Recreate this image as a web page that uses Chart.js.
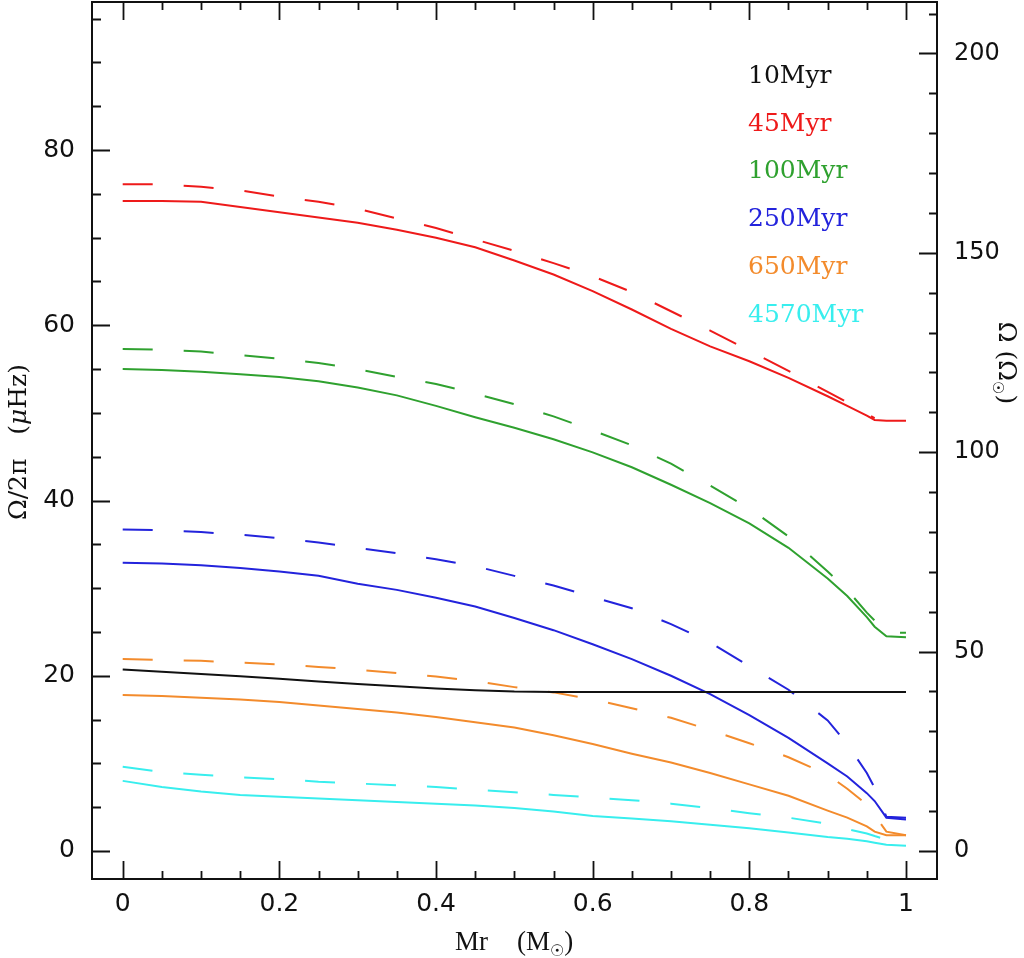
<!DOCTYPE html>
<html><head><meta charset="utf-8">
<script src="https://cdn.jsdelivr.net/npm/chart.js@4"></script>
<style>html,body{margin:0;padding:0;background:#fff}canvas{display:block}</style>
</head><body>
<canvas id="c" width="1024" height="958"></canvas>
<script>
// ---- data ----
const mr = [0,0.05,0.1,0.15,0.2,0.25,0.3,0.35,0.4,0.45,0.5,0.55,0.6,0.65,0.7,0.75,0.8,0.85,0.9,0.925,0.95,0.96,0.975,1.0];

const black10  = [20.7,20.45,20.2,19.95,19.65,19.35,19.05,18.8,18.55,18.35,18.2,18.15,18.15,18.15,18.15,18.15,18.15,18.15,18.15,18.15,18.15,18.15,18.15,18.15];
const red45    = [74.2,74.2,74.1,73.5,72.9,72.3,71.7,70.9,70.0,68.9,67.4,65.8,63.9,61.8,59.6,57.6,55.9,54.0,51.9,50.8,49.7,49.2,49.1,49.1];
const red45d   = [76.1,76.1,75.8,75.4,74.7,74.1,73.3,72.2,71.1,69.8,68.5,67.1,65.6,63.8,61.6,59.4,57.1,54.8,52.4,51.2,49.9,49.4];
const green100 = [55.0,54.9,54.7,54.4,54.1,53.6,52.9,52.0,50.8,49.5,48.3,47.0,45.5,43.8,41.8,39.7,37.4,34.6,31.1,29.1,26.7,25.6,24.5,24.4];
const green100d= [57.3,57.2,57.0,56.6,56.2,55.7,55.0,54.1,53.3,52.2,51.0,49.6,48.0,46.3,44.2,41.7,39.1,35.9,31.9,29.8,27.2,26.3,24.9,24.9];
const blue250  = [32.9,32.8,32.6,32.3,31.9,31.4,30.5,29.8,28.9,27.9,26.6,25.2,23.6,21.9,20.0,17.9,15.5,12.9,10.0,8.5,6.6,5.7,3.8,3.6];
const blue250d = [36.7,36.6,36.4,36.1,35.7,35.2,34.6,34.0,33.3,32.5,31.4,30.3,29.0,27.7,25.9,23.8,21.1,18.4,14.9,12.2,8.9,7.2,3.9,3.8];
const orange650  = [17.8,17.7,17.5,17.3,17.0,16.6,16.2,15.8,15.3,14.7,14.1,13.2,12.2,11.1,10.1,8.9,7.6,6.3,4.6,3.8,2.8,2.2,1.8,1.8];
const orange650d = [21.9,21.8,21.7,21.5,21.3,21.0,20.7,20.3,19.9,19.4,18.7,18.1,17.3,16.3,15.2,13.8,12.3,10.7,8.7,7.1,5.3,4.1,2.2,1.8];
const cyan4570   = [8.0,7.3,6.8,6.4,6.2,6.0,5.8,5.6,5.4,5.2,4.9,4.5,4.0,3.7,3.4,3.0,2.6,2.1,1.6,1.4,1.1,0.95,0.7,0.6];
const cyan4570d  = [9.6,9.0,8.7,8.4,8.2,7.9,7.7,7.5,7.3,7.0,6.7,6.4,6.1,5.8,5.4,4.9,4.3,3.8,3.1,2.5,2.0,1.7,1.3];

const legendLabels = ['10Myr','45Myr','100Myr','250Myr','650Myr','4570Myr'];
const legendColors = ['#111111','#ee1a1a','#2fa12f','#2323dc','#f38b2c','#38eeee'];

const xTickValues = [0,0.2,0.4,0.6,0.8,1];
const xTickLabels = ['0','0.2','0.4','0.6','0.8','1'];
const yTickValues = [0,20,40,60,80];
const yTickLabels = ['0','20','40','60','80'];
const y2TickValues = [0,50,100,150,200];
const y2TickLabels = ['0','50','100','150','200'];

// axis ranges and minor tick steps
const X_MIN = -0.0392, X_MAX = 1.0396;
const Y_MIN = -3.2, Y_MAX = 96.9;
const Y2_MIN = -7.02, Y2_MAX = 212.9;
const X_MINOR = 0.05, Y_MINOR = 5, Y2_MINOR = 10;

// ---- build datasets ----
function pts(vals){ return vals.map((v,i)=>({x: mr[i], y: v})); }
const DASH = [30,31];
const series = [
  {vals: black10,   color: legendColors[0], dash: []},
  {vals: red45,     color: legendColors[1], dash: []},
  {vals: red45d,    color: legendColors[1], dash: DASH},
  {vals: green100,  color: legendColors[2], dash: []},
  {vals: green100d, color: legendColors[2], dash: DASH},
  {vals: blue250,   color: legendColors[3], dash: []},
  {vals: blue250d,  color: legendColors[3], dash: DASH},
  {vals: orange650, color: legendColors[4], dash: []},
  {vals: orange650d,color: legendColors[4], dash: DASH},
  {vals: cyan4570,  color: legendColors[5], dash: []},
  {vals: cyan4570d, color: legendColors[5], dash: DASH},
];
const datasets = series.map(s => ({
  data: pts(s.vals), borderColor: s.color, borderDash: s.dash,
  borderWidth: 2, pointRadius: 0, fill: false, tension: 0, yAxisID: 'y'
}));

// ---- plugin: frame, inward ticks, legend, axis titles ----
function range(min, max, step){ const out=[]; const n0=Math.ceil(min/step-1e-9), n1=Math.floor(max/step+1e-9); for(let n=n0;n<=n1;n++) out.push(+(n*step).toFixed(6)); return out; }

const decor = {
  id: 'decor',
  afterDraw(chart){
    const {ctx, chartArea: a, scales} = chart;
    const sx = scales.x, sy = scales.y, sy2 = scales.y2;
    ctx.save();
    ctx.strokeStyle = '#111';
    ctx.lineWidth = 2;
    ctx.strokeRect(a.left, a.top, a.right - a.left, a.bottom - a.top);
    ctx.lineWidth = 1.8;
    ctx.beginPath();
    range(X_MIN, X_MAX, X_MINOR).forEach(v => {
      const major = xTickValues.some(t => Math.abs(t - v) < 1e-6);
      const len = major ? 18 : 8;
      const p = Math.round(sx.getPixelForValue(v)) + 0.5;
      ctx.moveTo(p, a.bottom); ctx.lineTo(p, a.bottom - len);
      ctx.moveTo(p, a.top); ctx.lineTo(p, a.top + len);
    });
    range(Y_MIN, Y_MAX, Y_MINOR).forEach(v => {
      const major = yTickValues.includes(v);
      const len = major ? 18 : 9;
      const p = Math.round(sy.getPixelForValue(v)) + 0.5;
      ctx.moveTo(a.left, p); ctx.lineTo(a.left + len, p);
    });
    range(Y2_MIN, Y2_MAX, Y2_MINOR).forEach(v => {
      const major = y2TickValues.includes(v);
      const len = major ? 18 : 8;
      const p = Math.round(sy2.getPixelForValue(v)) + 0.5;
      ctx.moveTo(a.right, p); ctx.lineTo(a.right - len, p);
    });
    ctx.stroke();

    // legend text
    ctx.font = '25px "DejaVu Serif"';
    ctx.textAlign = 'left'; ctx.textBaseline = 'alphabetic';
    legendLabels.forEach((lab, i) => {
      ctx.fillStyle = legendColors[i];
      ctx.fillText(lab, 748, 83 + i * 47.7);
    });

    // bottom title: Mr   (M☉)
    ctx.fillStyle = '#111';
    ctx.font = '27px "Liberation Serif"';
    const by = 950;
    ctx.fillText('Mr', 455, by);
    let bx = 517;
    ctx.fillText('(M', bx, by); bx += ctx.measureText('(M').width;
    ctx.font = '16px "DejaVu Sans"';
    ctx.fillText('\u2609', bx, by + 6); bx += ctx.measureText('\u2609').width;
    ctx.font = '27px "Liberation Serif"';
    ctx.fillText(')', bx, by);

    // left title: Ω/2π   (μHz)
    const parts = [['\u03A9/2\u03C0   (', '25px "DejaVu Serif"'], ['\u03BC', 'italic 25px "DejaVu Serif"'], ['Hz)', '25px "DejaVu Serif"']];
    let tot = 0;
    parts.forEach(p => { ctx.font = p[1]; tot += ctx.measureText(p[0]).width; });
    ctx.save();
    ctx.translate(26, 442); ctx.rotate(-Math.PI/2);
    let px = -tot/2;
    parts.forEach(p => { ctx.font = p[1]; ctx.fillText(p[0], px, 0); px += ctx.measureText(p[0]).width; });
    ctx.restore();

    // right title: Ω (Ω☉)
    ctx.save();
    ctx.translate(999, 363); ctx.rotate(Math.PI/2);
    const rp = [['\u03A9 (\u03A9', '25px "DejaVu Serif"', 0], ['\u2609', '15px "DejaVu Sans"', 6], [')', '25px "DejaVu Serif"', 0]];
    let rt = 0;
    rp.forEach(p => { ctx.font = p[1]; rt += ctx.measureText(p[0]).width; });
    let rx = -rt/2;
    rp.forEach(p => { ctx.font = p[1]; ctx.fillText(p[0], rx, p[2]); rx += ctx.measureText(p[0]).width; });
    ctx.restore();

    ctx.restore();
  }
};

function noPad(s){ s.paddingTop = 0; s.paddingBottom = 0; s.paddingLeft = 0; s.paddingRight = 0; }
const tickFont = {family: '"DejaVu Sans"', size: 25};
new Chart(document.getElementById('c').getContext('2d'), {
  type: 'line',
  data: {datasets},
  options: {
    responsive: false, animation: false, devicePixelRatio: 1,
    layout: {padding: {top: 2, left: 0, right: 0, bottom: 0}},
    plugins: {legend: {display: false}, tooltip: {enabled: false}},
    scales: {
      x: {
        type: 'linear', position: 'bottom', min: X_MIN, max: X_MAX,
        afterBuildTicks: s => { s.ticks = xTickValues.map(v => ({value: v})); },
        afterFit: s => { s.height = 79; noPad(s); },
        ticks: {callback: (v, i) => xTickLabels[i], font: tickFont, color: '#111', padding: 10, maxRotation: 0, autoSkip: false},
        grid: {display: false, drawTicks: false}, border: {display: false}
      },
      y: {
        type: 'linear', position: 'left', min: Y_MIN, max: Y_MAX,
        afterBuildTicks: s => { s.ticks = yTickValues.map(v => ({value: v})); },
        afterFit: s => { s.width = 92; noPad(s); },
        ticks: {callback: (v, i) => yTickLabels[i], font: tickFont, color: '#111', padding: 17, autoSkip: false},
        grid: {display: false, drawTicks: false}, border: {display: false}
      },
      y2: {
        type: 'linear', position: 'right', min: Y2_MIN, max: Y2_MAX,
        afterBuildTicks: s => { s.ticks = y2TickValues.map(v => ({value: v})); },
        afterFit: s => { s.width = 87; noPad(s); },
        ticks: {callback: (v, i) => y2TickLabels[i], font: {family: '"DejaVu Sans"', size: 24}, color: '#111', padding: 17, autoSkip: false},
        grid: {display: false, drawTicks: false}, border: {display: false}
      }
    }
  },
  plugins: [decor]
});
</script>
</body></html>
